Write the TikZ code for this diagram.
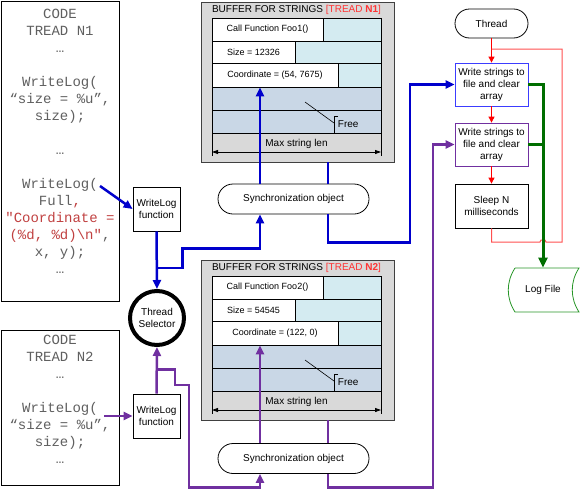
\documentclass[tikz,border=0pt]{standalone}
\usepackage{fontspec}
\setmainfont{Liberation Sans}
\setmonofont{Liberation Mono}
\usetikzlibrary{arrows.meta,positioning}
\definecolor{bufgray}{RGB}{217,217,217}
\definecolor{rowcyan}{RGB}{212,235,241}
\definecolor{rowfree}{RGB}{201,215,230}
\definecolor{lineblue}{RGB}{0,0,204}
\definecolor{linepurple}{RGB}{112,48,160}
\definecolor{linegreen}{RGB}{0,110,0}
\definecolor{linered}{RGB}{255,80,80}
\definecolor{boxblue}{RGB}{60,60,255}
\definecolor{logline}{RGB}{40,150,40}
\definecolor{titred}{RGB}{255,51,51}
\definecolor{codered}{RGB}{192,64,64}
\definecolor{codegray}{RGB}{95,95,95}
\tikzset{
  box/.style={draw,rectangle,inner sep=0pt,align=center,font=\fontsize{10}{12}\selectfont},
  row/.style={draw,rectangle,fill=white,inner sep=0pt,font=\fontsize{9}{11}\selectfont},
  term/.style={draw,rectangle,inner sep=0pt,font=\fontsize{10}{12}\selectfont},
  code/.style={inner sep=0pt,align=center,text=codegray,font=\fontsize{14}{17}\selectfont\ttfamily},
  lbl/.style={inner sep=0pt,font=\fontsize{10}{12}\selectfont},
  bl/.style={draw=lineblue,line width=2.5pt},
  pu/.style={draw=linepurple,line width=2.5pt},
  gr/.style={draw=linegreen,line width=3pt,-{Triangle[length=10pt,width=9pt]}},
  rd/.style={draw=red,line width=0.8pt,-{Triangle[length=6pt,width=6pt]}},
  dim/.style={{Triangle[length=6pt,width=4pt]}-{Triangle[length=6pt,width=4pt]}}
}
\begin{document}
\begin{tikzpicture}[x=1pt,y=-1pt,>={Triangle[length=9pt,width=8pt]},line width=0.8pt]
\useasboundingbox (0,0) rectangle (580,490);
% code of the two threads
\node[draw,minimum width=118pt,minimum height=300pt] (code1) at (60,151) {};
\node[code,anchor=north] (src1) at (60,9) {CODE\\TREAD N1\\…\\[17pt]WriteLog(\\“size = \%u”,\\size);\\[17pt]…\\[17pt]WriteLog(\\Full{\color{codered},}\\{\color{codered}"Coordinate =}\\{\color{codered}(\%d, \%d)\textbackslash n"},\\x, y);\\…};
\node[draw,minimum width=118pt,minimum height=155pt] (code2) at (60,407.5) {};
\node[code,anchor=north] (src2) at (60,335) {CODE\\TREAD N2\\…\\[17pt]WriteLog(\\“size = \%u”,\\size);\\…};
\coordinate (w1) at (100,186);
\coordinate (w2) at (104,416);
% writelog and selector
\node[box,minimum width=47pt,minimum height=44pt] (wl1) at (156.5,209) {WriteLog\\function};
\node[box,minimum width=47pt,minimum height=44pt] (wl2) at (156.5,416) {WriteLog\\function};
\node[box,circle,line width=4pt,minimum size=54pt] (sel) at (157,318) {Thread\\Selector};
% buffer N1
\node[draw=black!75,fill=bufgray,minimum width=193pt,minimum height=160pt] (buf1) at (297.5,82) {};
\node[lbl] (ttl1) at (296.5,10) {BUFFER FOR STRINGS \textcolor{titred}{[TREAD \textbf{N1}]}};
\draw[fill=rowcyan] (212,18) rectangle (381,41);
\draw[fill=rowcyan] (212,41) rectangle (381,63);
\draw[fill=rowcyan] (212,63) rectangle (381,87);
\draw[fill=rowfree] (212,87) rectangle (381,110);
\draw[fill=rowfree] (212,110) rectangle (381,133);
\node[row,minimum width=111pt,minimum height=23pt] (c1) at (267.5,29.5) {Call Function Foo1()};
\node[row,minimum width=83pt,minimum height=22pt] (s1) at (253.5,52) {Size = 12326};
\node[row,minimum width=126pt,minimum height=24pt] (k1) at (275,75) {Coordinate = (54, 7675)};
\draw (212,133) -- (212,156) (381,133) -- (381,156);
\draw[dim] (212,152) -- (381,152);
\node[lbl] (len1) at (296.5,144) {Max string len};
\draw[line width=0.6pt] (305,102) -- (334,123);
\draw (338,116) -- (334.5,116) -- (334.5,133);
\node[lbl,anchor=west] (fr1) at (337.5,124) {Free};
% buffer N2
\node[draw=black!75,fill=bufgray,minimum width=193pt,minimum height=160pt] (buf2) at (297.5,340) {};
\node[lbl] (ttl2) at (296.5,268) {BUFFER FOR STRINGS \textcolor{titred}{[TREAD \textbf{N2}]}};
\draw[fill=rowcyan] (212,276) rectangle (381,299);
\draw[fill=rowcyan] (212,299) rectangle (381,321);
\draw[fill=rowcyan] (212,321) rectangle (381,345);
\draw[fill=rowfree] (212,345) rectangle (381,368);
\draw[fill=rowfree] (212,368) rectangle (381,391);
\node[row,minimum width=111pt,minimum height=23pt] (c2) at (267.5,287.5) {Call Function Foo2()};
\node[row,minimum width=83pt,minimum height=22pt] (s2) at (253.5,310) {Size = 54545};
\node[row,minimum width=126pt,minimum height=24pt] (k2) at (275,333) {Coordinate = (122, 0)};
\draw (212,391) -- (212,414) (381,391) -- (381,414);
\draw[dim] (212,410) -- (381,410);
\node[lbl] (len2) at (296.5,402) {Max string len};
\draw[line width=0.6pt] (305,360) -- (334,381);
\draw (338,374) -- (334.5,374) -- (334.5,391);
\node[lbl,anchor=west] (fr2) at (337.5,382) {Free};
% synchronization objects
\node[term,rounded corners=15pt,minimum width=151pt,minimum height=30pt] (sync1) at (293.5,199) {Synchronization object};
\node[term,rounded corners=15pt,minimum width=151pt,minimum height=30pt] (sync2) at (293.5,458.5) {Synchronization object};
% writer thread
\node[term,rounded corners=14.5pt,minimum width=73pt,minimum height=29pt] (thr) at (491.5,23.5) {Thread};
\node[box,draw=boxblue,minimum width=73pt,minimum height=43pt] (wr1) at (491.5,84.5) {Write strings to\\file and clear\\array};
\node[box,draw=linepurple,minimum width=73pt,minimum height=43pt] (wr2) at (491.5,144.5) {Write strings to\\file and clear\\array};
\node[box,minimum width=73pt,minimum height=44pt] (slp) at (491.5,206) {Sleep N\\milliseconds};
\draw[logline,fill=white] (515,268) -- (579,268) .. controls (570,282) and (570,298) .. (579,312) -- (515,312) .. controls (506,298) and (506,282) .. (515,268);
\node[lbl,minimum width=64pt,minimum height=44pt] (log) at (543,290) {Log File};
% blue path
\coordinate (j1) at (157,268);
\draw[bl,->] (w1) -- (wl1.west);
\draw[bl,->] (wl1.south) -- (sel.north);
\draw[bl,->] (j1) -- (182.5,268) -- (182.5,248.5) -| ([xshift=-33.5pt]sync1.south);
\draw[bl,->] ([xshift=-33.5pt]sync1.north) -- ([xshift=-33.5pt]sync1.north |- k1.south);
\draw[bl] ([xshift=34.5pt]sync1.north |- buf1.south) -- ([xshift=34.5pt]sync1.north);
\draw[bl,->] ([xshift=34.5pt]sync1.south) |- (410,242.5) |- (wr1.west);
% purple path
\coordinate (j2) at (157,369.5);
\draw[pu,->] (w2) -- (wl2.west);
\draw[pu,->] (wl2.north) -- (sel.south);
\draw[pu,->] (j2) -- (175,369.5) -- (175,385) -- (189,385) -- (189,487.5) -| ([xshift=-33.5pt]sync2.south);
\draw[pu,->] ([xshift=-33.5pt]sync2.north) -- ([xshift=-33.5pt]sync2.north |- k2.south);
\draw[pu] ([xshift=34.5pt]sync2.north |- buf2.south) -- ([xshift=34.5pt]sync2.north);
\draw[pu,->] ([xshift=34.5pt]sync2.south) |- (433,487.5) |- (wr2.west);
% loop of the writer thread
\draw[rd] (thr.south) -- (wr1.north);
\draw[rd] (wr1.south) -- (wr2.north);
\draw[rd] (wr2.south) -- (slp.north);
\draw[linered,line width=1pt] (slp.south) |- (540,242) -- (541,240) -- (545,240) -- (546,242) -- (562,242) -- (562,49) -- (491.5,49);
\draw[gr] (wr1.east) -| (log.north);
\draw[draw=linegreen,line width=3pt] (wr2.east) -- (wr2.east -| log.north);
\end{tikzpicture}
\end{document}
